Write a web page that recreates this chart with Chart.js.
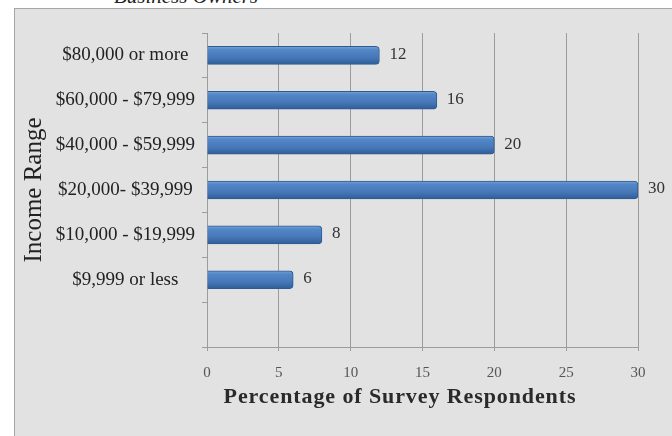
<!DOCTYPE html>
<html>
<head>
<meta charset="utf-8">
<script src="https://cdn.jsdelivr.net/npm/chart.js@4/dist/chart.umd.min.js"></script>
<style>
  html, body { margin: 0; padding: 0; background: #ffffff; }
  #wrap { position: relative; width: 672px; height: 436px; overflow: hidden; }
  #panel { position: absolute; left: 14px; top: 8px; width: 660px; height: 440px;
           background: #e2e2e2; border: 1px solid #a6a6a6; box-sizing: border-box; }
  #subtitle { position: absolute; left: 0; width: 372px; top: -14px; text-align: center;
              font: italic 21px "Liberation Serif", serif; color: #222; line-height: 21px; }
  #xtitle { position: absolute; left: 0; width: 800px; top: 384px; text-align: center;
            font: bold 22px "Liberation Serif", serif; color: #2a2a2a; line-height: 24px;
            letter-spacing: 0.9px; }
  canvas { position: absolute; left: 0; top: 0; }
</style>
</head>
<body>
<div id="wrap">
  <div id="panel"></div>
  <div id="subtitle">Business Owners</div>
  <canvas id="c" width="672" height="436"></canvas>
  <div id="xtitle">Percentage of Survey Respondents</div>
</div>
<script>
// Income brackets (top to bottom); the last slot is left blank
const incomeRanges = [
  '$80,000 or more',
  '$60,000 - $79,999',
  '$40,000 - $59,999',
  '$20,000- $39,999',
  '$10,000 - $19,999',
  '$9,999 or less',
  ''
];
// Share of survey respondents in each bracket (%)
const respondentShare = [12, 16, 20, 30, 8, 6, null];
// Percentage axis ticks
const percentTicks = [0, 5, 10, 15, 20, 25, 30];

const serif = '"Liberation Serif", serif';
const BAR_H = 18;

// Vertical shading for each bar, positioned from the category scale
function barFill(ctx) {
  const chart = ctx.chart;
  const yScale = chart.scales.y;
  if (!yScale || ctx.dataIndex === undefined) return '#4a7cbd';
  const yc = yScale.getPixelForTick(ctx.dataIndex);
  const g = chart.ctx.createLinearGradient(0, yc - BAR_H / 2, 0, yc + BAR_H / 2);
  g.addColorStop(0, '#7aa3d6');
  g.addColorStop(0.18, '#5287c8');
  g.addColorStop(0.6, '#4878b8');
  g.addColorStop(1, '#2f5e98');
  return g;
}

// Value labels at the end of each bar
const valueLabels = {
  id: 'valueLabels',
  afterDatasetsDraw(chart) {
    const c = chart.ctx;
    const meta = chart.getDatasetMeta(0);
    c.save();
    c.font = '17px ' + serif;
    c.fillStyle = '#333';
    c.textAlign = 'left';
    c.textBaseline = 'middle';
    meta.data.forEach((bar, i) => {
      const v = respondentShare[i];
      if (v === null || v === undefined) return;
      c.fillText(String(v), bar.x + 10, bar.y - 1);
    });
    c.restore();
  }
};

new Chart(document.getElementById('c'), {
  type: 'bar',
  data: {
    labels: incomeRanges,
    datasets: [{
      data: respondentShare,
      backgroundColor: barFill,
      borderColor: '#2d5a92',
      borderWidth: 1,
      borderSkipped: 'start',
      borderRadius: { topLeft: 0, bottomLeft: 0, topRight: 4, bottomRight: 4 },
      barThickness: BAR_H
    }]
  },
  options: {
    indexAxis: 'y',
    responsive: false,
    animation: false,
    devicePixelRatio: 1,
    layout: { padding: { left: 0, top: 33, right: 34, bottom: 0 } },
    plugins: { legend: { display: false }, tooltip: { enabled: false } },
    scales: {
      x: {
        min: 0,
        max: 30,
        afterBuildTicks(scale) { scale.ticks = percentTicks.map(v => ({ value: v })); },
        afterFit(scale) { scale.height = 89; },
        grid: { color: '#9c9c9c', lineWidth: 1, tickLength: 4, drawTicks: true },
        border: { color: '#9c9c9c' },
        ticks: { font: { family: serif, size: 15 }, color: '#555', padding: 13 }
      },
      y: {
        afterFit(scale) { scale.width = 207; },
        grid: { drawOnChartArea: false, drawTicks: true, tickLength: 5, color: '#9c9c9c', offset: true },
        border: { color: '#9c9c9c' },
        ticks: { font: { family: serif, size: 19 }, color: '#222', padding: 7, crossAlign: 'center' },
        title: {
          display: true,
          text: 'Income Range',
          font: { family: serif, size: 25 },
          color: '#222',
          padding: { top: 19, bottom: 0 }
        }
      }
    }
  },
  plugins: [valueLabels]
});
</script>
</body>
</html>
